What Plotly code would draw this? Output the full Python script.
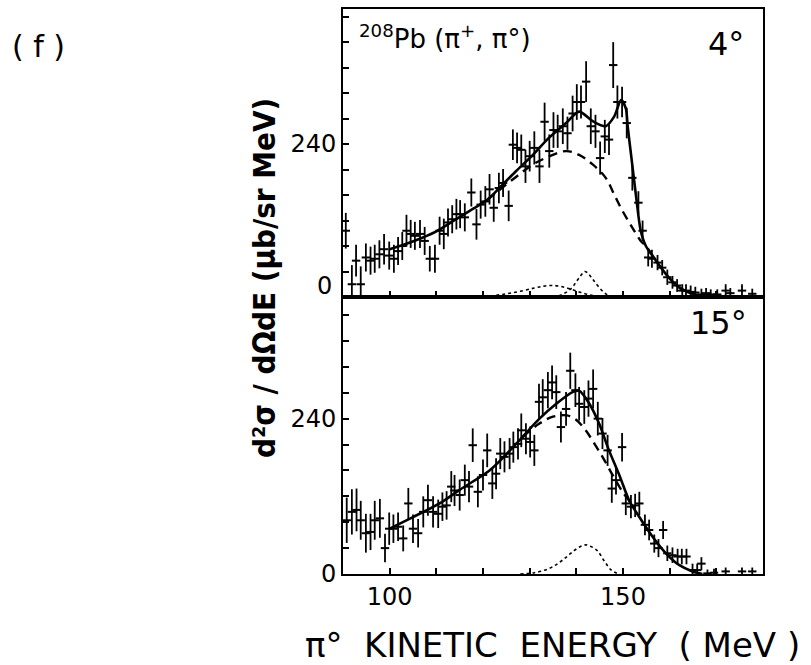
import plotly.graph_objects as go

# ---------------- data ----------------
E_4 = [90.6, 91.9, 92.8, 93.8, 94.9, 95.9, 96.8, 97.8, 98.8, 99.9, 100.9, 101.8, 102.7,
       103.6, 104.5, 105.4, 106.5, 107.5, 108.6, 109.7, 110.7, 111.6, 112.5, 113.4, 114.3,
       115.1, 116.1, 117.5, 118.6, 119.5, 120.5, 121.4, 122.3, 123.4, 124.3, 125.5, 126.4,
       127.3, 128.2, 129.1, 130.0, 131.0, 132.1, 133.2, 134.2, 135.1, 136.0, 137.1, 138.1,
       139.2, 140.1, 141.0, 142.1, 143.1, 144.1, 145.1, 146.1, 147.0, 147.9, 148.8, 149.8,
       150.8, 152.0, 153.3, 154.2, 155.4, 156.2, 157.4, 158.4, 159.5, 160.6, 161.6, 162.7,
       163.5, 164.5, 165.5, 166.8, 167.8, 168.8, 170.2, 172.0, 173.0, 175.5, 177.7]
Y_4 = [104, 20, 57, 20, 62, 57, 60, 67, 75, 65, 60, 72, 80,
       104, 99, 96, 99, 88, 60, 60, 104, 99, 117, 122, 130,
       130, 125, 164, 114, 145, 150, 169, 140, 171, 179, 143, 239,
       234, 231, 205, 221, 234, 205, 275, 229, 262, 260, 268, 257,
       288, 306, 306, 338, 268, 260, 218, 252, 247, 364, 306, 306,
       273, 187, 148, 104, 62, 60, 54, 46, 31, 23, 18, 10,
       10, 8, 7, 4, 6, 4, 4, 10, 6, 10, 5]
ERR_4 = [28, 30, 25, 28, 22, 22, 22, 22, 24, 22, 22, 22, 22,
         25, 22, 22, 22, 22, 20, 22, 22, 24, 22, 22, 24,
         22, 22, 22, 24, 22, 24, 24, 22, 24, 22, 24, 24,
         24, 24, 26, 24, 26, 26, 30, 26, 28, 26, 28, 26,
         28, 28, 26, 32, 28, 26, 26, 26, 24, 36, 26, 24,
         24, 20, 18, 16, 14, 14, 12, 12, 12, 10, 10, 10,
         10, 10, 9, 9, 8, 8, 8, 10, 8, 10, 8]

E_15 = [90.8, 91.9, 92.9, 93.8, 94.9, 95.9, 96.8, 97.9, 99.0, 99.9, 100.8, 101.8, 102.9,
        104.0, 105.0, 106.1, 107.2, 108.2, 109.3, 110.4, 111.3, 112.2, 113.2, 113.9, 115.0,
        116.1, 117.0, 117.8, 118.9, 120.0, 120.9, 122.0, 122.8, 123.7, 124.6, 125.7, 126.5,
        127.5, 128.2, 129.2, 130.1, 131.0, 132.0, 132.8, 133.9, 134.8, 135.7, 136.7, 137.8,
        138.7, 139.8, 140.6, 141.7, 142.6, 143.6, 144.6, 145.6, 146.7, 147.6, 148.5, 149.8,
        150.6, 151.7, 152.6, 153.5, 154.7, 155.6, 156.7, 157.6, 158.6, 159.5, 160.6, 161.7,
        162.6, 163.6, 164.9, 165.9, 166.8, 168.1, 169.5, 172.0, 175.5, 177.7]
Y_15 = [83, 96, 99, 83, 63, 65, 83, 86, 40, 70, 70, 73, 55,
        109, 70, 63, 96, 114, 96, 93, 104, 106, 135, 129, 122,
        145, 135, 199, 127, 153, 191, 140, 155, 186, 181, 186, 196,
        201, 222, 209, 204, 191, 266, 273, 284, 296, 281, 227, 255,
        314, 284, 263, 258, 271, 286, 240, 217, 191, 132, 145, 196,
        109, 104, 106, 109, 76, 68, 47, 40, 68, 32, 29, 27,
        27, 27, 6, 6, 16, 1, 2, 4, 4, 4]
ERR_15 = [35, 35, 33, 30, 30, 28, 30, 30, 22, 25, 22, 22, 20,
          24, 22, 22, 24, 24, 24, 22, 22, 22, 24, 24, 24,
          24, 24, 26, 24, 24, 26, 24, 24, 24, 24, 24, 24,
          24, 26, 24, 24, 24, 28, 28, 28, 26, 26, 24, 26,
          28, 26, 26, 26, 28, 30, 26, 24, 24, 22, 22, 22,
          18, 18, 18, 18, 16, 16, 14, 14, 14, 12, 12, 12,
          12, 12, 10, 10, 10, 6, 6, 6, 6, 6]

# fit curves
FIT4_E = [100, 103, 107, 110, 114, 118, 121, 123.5, 127, 130.7, 134, 137.8, 140.6, 143.5,
          146.3, 148.1, 149.6, 150.6, 151.0, 151.7, 152.8, 153.8, 154.9, 156.3, 159.2,
          162.0, 164.9, 167.7]
FIT4_Y = [75, 82, 93, 103, 121, 139, 153, 171, 197, 223, 249, 273, 291, 276,
          268, 283, 309, 296, 268, 225, 158, 104, 80, 65, 36, 15, 5, 0]
BKG4_E = [121, 123.5, 127, 130.7, 134, 137.8, 140.6, 143.5, 146.3, 148.1, 149.9, 152.0,
          153.8, 154.9, 156.3]
BKG4_Y = [153, 168, 188, 208, 220, 229, 223, 208, 187, 161, 135, 109, 88, 80, 65]
DOTA4_E = [119, 122, 125, 128, 131, 133, 135, 137, 139, 141, 143, 145]
DOTA4_Y = [0, 2, 5, 9, 14, 17, 18, 16, 12, 7, 3, 0]
DOTB4_E = [135, 137, 139, 140, 141, 141.8, 142.5, 143.5, 145, 146.5, 148]
DOTB4_Y = [0, 4, 14, 24, 34, 40, 37, 28, 14, 4, 0]

FIT15_E = [100, 105, 110.7, 115, 121.4, 125, 128.5, 132.1, 135.7, 139.2, 140.6, 142.8,
           144.9, 147.0, 149.2, 151.3, 153.5, 156.3, 159.2, 162.0, 164.9, 167.0]
FIT15_Y = [70, 88, 109, 130, 160, 185, 212, 240, 263, 281, 283, 263,
           232, 191, 153, 114, 88, 58, 32, 14, 4, 0]
BKG15_E = [128.5, 132, 135, 138, 140, 142, 144, 146, 148, 150, 151.5]
BKG15_Y = [212, 232, 243, 245, 238, 222, 200, 176, 150, 126, 112]
DOT15_E = [128, 131, 134, 136, 138, 139.5, 141, 142, 143, 144.5, 146, 147.5, 149]
DOT15_Y = [0, 2, 8, 16, 27, 36, 43, 45, 43, 36, 20, 6, 0]

X_LABELED = [100, 150]
Y4_LABELED = [240]
Y15_LABELED = [0, 240]

# ---------------- figure ----------------
FONT = "DejaVu Sans"
fig = go.Figure()


def add_panel(xa, ya, E, Y, ERR, fitE, fitY, bkgE, bkgY, dots):
    for dE, dY in dots:
        fig.add_trace(go.Scatter(x=dE, y=dY, mode="lines", xaxis=xa, yaxis=ya,
                                 line=dict(color="black", width=1.6, dash="dot", shape="spline"),
                                 showlegend=False, hoverinfo="skip"))
    fig.add_trace(go.Scatter(x=bkgE, y=bkgY, mode="lines", xaxis=xa, yaxis=ya,
                             line=dict(color="black", width=2.4, dash="9px,6px", shape="spline"),
                             showlegend=False, hoverinfo="skip"))
    fig.add_trace(go.Scatter(x=fitE, y=fitY, mode="lines", xaxis=xa, yaxis=ya,
                             line=dict(color="black", width=2.6, shape="spline", smoothing=0.8),
                             showlegend=False, hoverinfo="skip"))
    fig.add_trace(go.Scatter(x=E, y=Y, mode="markers", xaxis=xa, yaxis=ya,
                             marker=dict(symbol="line-ew", size=6, color="black",
                                         line=dict(color="black", width=2)),
                             error_y=dict(type="data", array=ERR, width=0, thickness=1.8,
                                          color="black"),
                             showlegend=False))


add_panel("x", "y", E_4, Y_4, ERR_4, FIT4_E, FIT4_Y, BKG4_E, BKG4_Y,
          [(DOTA4_E, DOTA4_Y), (DOTB4_E, DOTB4_Y)])
add_panel("x2", "y2", E_15, Y_15, ERR_15, FIT15_E, FIT15_Y, BKG15_E, BKG15_Y,
          [(DOT15_E, DOT15_Y)])

SPLIT = 278 / 567

axis_common = dict(showline=True, linecolor="black", linewidth=2, mirror=True,
                   ticks="inside", ticklen=6, tickwidth=1.6, tickcolor="black",
                   showgrid=False, zeroline=False,
                   tickfont=dict(family=FONT, size=24, color="black"))
minor_x = dict(ticks="inside", ticklen=6, tickwidth=1.6, tickcolor="black", dtick=10,
               tick0=90, showgrid=False)
minor_y = dict(ticks="inside", ticklen=6, tickwidth=1.6, tickcolor="black", dtick=40,
               tick0=0, showgrid=False)

fig.update_layout(
    width=811, height=665,
    margin=dict(l=343, r=48, t=7, b=91),
    paper_bgcolor="white", plot_bgcolor="white",
    xaxis=dict(range=[90, 180], domain=[0, 1], anchor="y", tickmode="array",
               tickvals=X_LABELED, showticklabels=False, minor=minor_x, **axis_common),
    yaxis=dict(range=[0, 452], domain=[SPLIT, 1], anchor="x", tickmode="array",
               tickvals=Y4_LABELED, minor=minor_y, **axis_common),
    xaxis2=dict(range=[90, 180], domain=[0, 1], anchor="y2", tickmode="array",
                tickvals=X_LABELED, minor=minor_x, **axis_common),
    yaxis2=dict(range=[0, 428], domain=[0, SPLIT], anchor="x2", tickmode="array",
                tickvals=Y15_LABELED, minor=minor_y, **axis_common),
)


def px_to_paper(px, py):
    return (px - 343) / 420, 1 - (py - 7) / 567


def add_text(text, px, py, size, xanchor="center", bold=False, angle=0, family=FONT):
    xp, yp = px_to_paper(px, py)
    fig.add_annotation(text=f"<b>{text}</b>" if bold else text, x=xp, y=yp,
                       xref="paper", yref="paper", showarrow=False,
                       xanchor=xanchor, yanchor="middle", textangle=angle,
                       font=dict(family=family, size=size, color="black"))


NB = "\u00a0"
add_text("( f )", 38, 45, 30)
add_text("d²σ / dΩdE (μb/sr MeV)", 264, 277, 31, bold=True, angle=-90,
         family="DejaVu Sans Condensed, DejaVu Sans")
add_text(f"π°{NB} KINETIC{NB} ENERGY{NB} ({NB}MeV{NB})", 802, 645, 34, xanchor="right")
add_text("<sup>208</sup>Pb (π<sup>+</sup>, π°)", 357, 35, 26, xanchor="left")
add_text("4°", 726, 42, 32)
add_text("15°", 718, 322, 32)
add_text("0", 334, 285, 24, xanchor="right")

fig.write_html("out.html", config={"displayModeBar": False},
               post_script="document.body.style.margin='0';")
